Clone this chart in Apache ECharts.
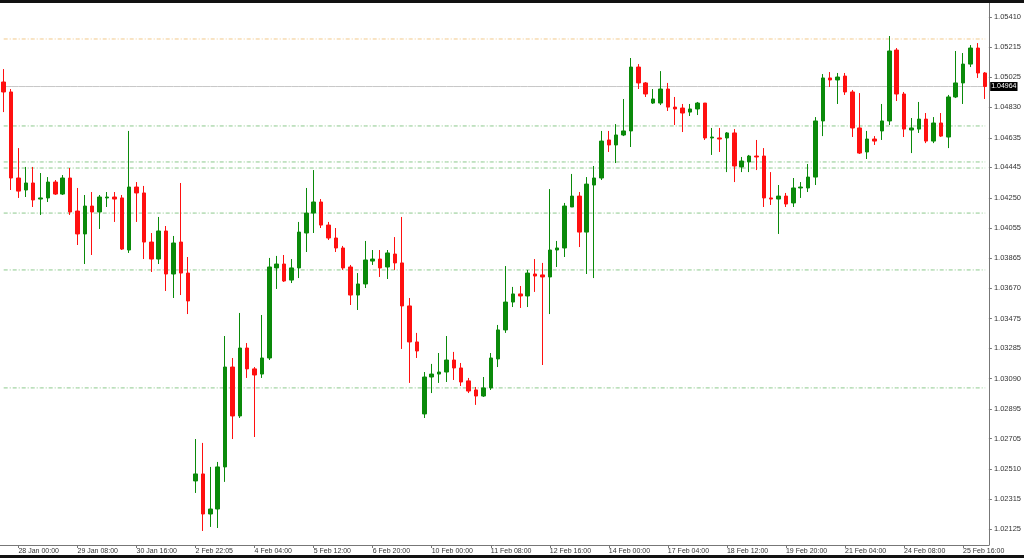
<!DOCTYPE html>
<html>
<head>
<meta charset="utf-8">
<script src="https://cdn.jsdelivr.net/npm/echarts@6/dist/echarts.min.js"></script>
<style>
    html, body { margin: 0; padding: 0; background: #fff; }
    #chart { width: 1024px; height: 558px; }
</style>
</head>
<body>
<div id="chart"></div>
<script>
// 4h candles, [open, close, low, high]
var candles = [
    [1.04993, 1.04929, 1.04800, 1.05076], [1.04929, 1.04377, 1.04300, 1.04948], [1.04377, 1.04293, 1.04249, 1.04569],
    [1.04300, 1.04345, 1.04255, 1.04448], [1.04345, 1.04236, 1.04191, 1.04448], [1.04242, 1.04249, 1.04140, 1.04409],
    [1.04249, 1.04351, 1.04223, 1.04383], [1.04351, 1.04274, 1.04268, 1.04364], [1.04274, 1.04377, 1.04268, 1.04396],
    [1.04377, 1.04159, 1.04140, 1.04441], [1.04165, 1.04018, 1.03947, 1.04313], [1.04018, 1.04197, 1.03825, 1.04268],
    [1.04197, 1.04159, 1.03883, 1.04287], [1.04159, 1.04255, 1.04050, 1.04268], [1.04249, 1.04255, 1.04191, 1.04287],
    [1.04255, 1.04242, 1.04095, 1.04287], [1.04249, 1.03921, 1.03915, 1.04268], [1.03915, 1.04319, 1.03896, 1.04679],
    [1.04319, 1.04281, 1.04095, 1.04351], [1.04281, 1.03966, 1.03857, 1.04326], [1.03966, 1.03857, 1.03774, 1.04024],
    [1.03857, 1.04037, 1.03825, 1.04127], [1.04037, 1.03761, 1.03652, 1.04069], [1.03761, 1.03960, 1.03607, 1.04005],
    [1.03966, 1.03767, 1.03626, 1.04345], [1.03767, 1.03588, 1.03504, 1.03870], [1.02433, 1.02478, 1.02356, 1.02702],
    [1.02478, 1.02221, 1.02112, 1.02677], [1.02221, 1.02253, 1.02138, 1.02523], [1.02253, 1.02523, 1.02131, 1.02555],
    [1.02523, 1.03164, 1.02427, 1.03363], [1.03164, 1.02850, 1.02702, 1.03222], [1.02850, 1.03286, 1.02837, 1.03511],
    [1.03286, 1.03152, 1.03094, 1.03318], [1.03152, 1.03113, 1.02715, 1.03164], [1.03119, 1.03222, 1.03094, 1.03498],
    [1.03222, 1.03806, 1.03209, 1.03864], [1.03800, 1.03825, 1.03665, 1.03877], [1.03825, 1.03716, 1.03710, 1.03883],
    [1.03722, 1.03800, 1.03703, 1.03857], [1.03800, 1.04030, 1.03735, 1.04095], [1.04024, 1.04152, 1.03902, 1.04313],
    [1.04152, 1.04223, 1.04024, 1.04428], [1.04223, 1.04075, 1.04056, 1.04242], [1.04075, 1.03992, 1.03979, 1.04095],
    [1.03992, 1.03928, 1.03902, 1.04056], [1.03928, 1.03800, 1.03787, 1.03941], [1.03806, 1.03626, 1.03562, 1.03819],
    [1.03626, 1.03697, 1.03530, 1.03767], [1.03697, 1.03851, 1.03671, 1.03973], [1.03844, 1.03857, 1.03819, 1.03915],
    [1.03857, 1.03800, 1.03742, 1.03915], [1.03806, 1.03896, 1.03729, 1.03915], [1.03889, 1.03832, 1.03787, 1.03998],
    [1.03832, 1.03556, 1.03280, 1.04127], [1.03556, 1.03325, 1.03062, 1.03607], [1.03325, 1.03267, 1.03222, 1.03383],
    [1.02863, 1.03100, 1.02837, 1.03132], [1.03100, 1.03119, 1.02997, 1.03184], [1.03119, 1.03132, 1.03062, 1.03254],
    [1.03132, 1.03209, 1.03068, 1.03363], [1.03209, 1.03158, 1.03081, 1.03261], [1.03158, 1.03068, 1.03042, 1.03190],
    [1.03075, 1.03010, 1.02997, 1.03094], [1.03017, 1.02978, 1.02921, 1.03036], [1.02978, 1.03030, 1.02972, 1.03100],
    [1.03030, 1.03222, 1.03017, 1.03254], [1.03216, 1.03402, 1.03164, 1.03434], [1.03402, 1.03581, 1.03383, 1.03812],
    [1.03581, 1.03633, 1.03549, 1.03678], [1.03633, 1.03620, 1.03543, 1.03684], [1.03620, 1.03767, 1.03549, 1.03787],
    [1.03761, 1.03748, 1.03646, 1.03857], [1.03755, 1.03742, 1.03177, 1.03832], [1.03742, 1.03915, 1.03504, 1.04306],
    [1.03915, 1.03928, 1.03806, 1.03973], [1.03928, 1.04197, 1.03870, 1.04217], [1.04191, 1.04261, 1.04191, 1.04403],
    [1.04261, 1.04030, 1.03934, 1.04287], [1.04030, 1.04338, 1.03761, 1.04383], [1.04332, 1.04377, 1.03735, 1.04454],
    [1.04377, 1.04614, 1.04364, 1.04679], [1.04621, 1.04589, 1.04544, 1.04679], [1.04589, 1.04653, 1.04473, 1.04723],
    [1.04653, 1.04679, 1.04646, 1.04884], [1.04679, 1.05089, 1.04576, 1.05147], [1.05089, 1.04987, 1.04948, 1.05108],
    [1.04987, 1.04916, 1.04897, 1.04993], [1.04858, 1.04884, 1.04852, 1.04948], [1.04858, 1.04948, 1.04845, 1.05063],
    [1.04948, 1.04832, 1.04807, 1.04987], [1.04832, 1.04820, 1.04717, 1.04897], [1.04826, 1.04794, 1.04672, 1.04852],
    [1.04800, 1.04820, 1.04775, 1.04852], [1.04820, 1.04858, 1.04781, 1.04865], [1.04858, 1.04634, 1.04621, 1.04858],
    [1.04634, 1.04640, 1.04525, 1.04698], [1.04634, 1.04627, 1.04544, 1.04698], [1.04634, 1.04666, 1.04415, 1.04672],
    [1.04666, 1.04454, 1.04351, 1.04691], [1.04448, 1.04486, 1.04415, 1.04512], [1.04480, 1.04518, 1.04415, 1.04525],
    [1.04518, 1.04512, 1.04428, 1.04621], [1.04518, 1.04249, 1.04191, 1.04569], [1.04249, 1.04242, 1.04204, 1.04415],
    [1.04242, 1.04261, 1.04018, 1.04332], [1.04261, 1.04210, 1.04191, 1.04281], [1.04217, 1.04313, 1.04191, 1.04377],
    [1.04313, 1.04319, 1.04249, 1.04351], [1.04313, 1.04383, 1.04287, 1.04467], [1.04383, 1.04743, 1.04332, 1.04768],
    [1.04743, 1.05019, 1.04646, 1.05044], [1.05019, 1.05006, 1.04961, 1.05057], [1.05006, 1.05025, 1.04852, 1.05051],
    [1.05031, 1.04929, 1.04910, 1.05051], [1.04929, 1.04698, 1.04640, 1.04942], [1.04698, 1.04537, 1.04531, 1.04922],
    [1.04544, 1.04627, 1.04499, 1.04679], [1.04627, 1.04614, 1.04589, 1.04646], [1.04679, 1.04743, 1.04621, 1.04852],
    [1.04743, 1.05192, 1.04717, 1.05288], [1.05198, 1.04916, 1.04871, 1.05211], [1.04916, 1.04691, 1.04640, 1.04929],
    [1.04685, 1.04698, 1.04537, 1.04762], [1.04691, 1.04755, 1.04666, 1.04865], [1.04755, 1.04614, 1.04601, 1.04794],
    [1.04614, 1.04730, 1.04601, 1.04768], [1.04730, 1.04646, 1.04640, 1.04794], [1.04640, 1.04897, 1.04569, 1.04910],
    [1.04897, 1.04987, 1.04890, 1.05192], [1.04987, 1.05108, 1.04852, 1.05179], [1.05108, 1.05211, 1.05089, 1.05230],
    [1.05211, 1.05051, 1.05019, 1.05243], [1.05051, 1.04964, 1.04884, 1.05057]
];

var timeLabels = ['28 Jan 00:00', '29 Jan 08:00', '30 Jan 16:00', '2 Feb 22:05', '4 Feb 04:00', '5 Feb 12:00',
    '6 Feb 20:00', '10 Feb 00:00', '11 Feb 08:00', '12 Feb 16:00', '14 Feb 00:00', '17 Feb 04:00',
    '18 Feb 12:00', '19 Feb 20:00', '21 Feb 04:00', '24 Feb 08:00', '25 Feb 16:00'];
var firstLabelIndex = 2;
var labelStep = 8;

var priceTicks = [1.05410, 1.05215, 1.05025, 1.04830, 1.04635, 1.04445, 1.04250, 1.04055, 1.03865,
    1.03670, 1.03475, 1.03285, 1.03090, 1.02895, 1.02705, 1.02510, 1.02315, 1.02125];

var levelLines = [1.04711, 1.04480, 1.04441, 1.04152, 1.03787, 1.03030];
var upperLevel = 1.05269;
var lastPrice = 1.04964;

var categories = candles.map(function(c, i) {
    var k = i - firstLabelIndex;
    return (k >= 0 && k % labelStep === 0 && timeLabels[k / labelStep]) ? timeLabels[k / labelStep] : '';
});

var chart = echarts.init(document.getElementById('chart'));

var dashStyle = { color: '#8cc98c', type: [4, 2, 1, 2], width: 1 };

// horizontal levels drawn as flat line series over the full width
var levelSeries = levelLines.map(function(v) {
    return {
        type: 'line', data: categories.map(function() { return v; }),
        symbol: 'none', silent: true, lineStyle: dashStyle, z: 1
    };
});
levelSeries.push({
    type: 'line', data: categories.map(function() { return upperLevel; }),
    symbol: 'none', silent: true, z: 1,
    lineStyle: { color: '#f2c98a', type: [4, 2, 1, 2], width: 1 }
});
levelSeries.push({
    type: 'line', data: categories.map(function() { return lastPrice; }),
    symbol: 'none', silent: true, z: 1,
    lineStyle: { color: '#c8c8c8', type: 'solid', width: 1 },
    endLabel: {
        show: true, formatter: lastPrice.toFixed(5),
        backgroundColor: '#000', color: '#fff', fontSize: 7, padding: [1, 1],
        fontFamily: 'Liberation Sans', distance: 5
    }
});

option = {
    animation: false,
    backgroundColor: '#fff',
    grid: { left: 0, right: 28, top: 3, bottom: 13 },
    xAxis: {
        type: 'category',
        data: categories,
        boundaryGap: true,
        axisLine: { show: true, lineStyle: { color: '#777', width: 1 } },
        axisTick: {
            show: true, length: 3, lineStyle: { color: '#777' }, alignWithLabel: true,
            interval: function(i, v) { return v !== ''; }
        },
        axisLabel: {
            interval: function(i, v) { return v !== ''; },
            align: 'left', margin: 3, fontSize: 7, color: '#333',
            fontFamily: 'Liberation Sans Narrow, Liberation Sans'
        },
        splitLine: { show: false }
    },
    yAxis: {
        type: 'value',
        position: 'right',
        min: 1.02022,
        max: 1.05500,
        scale: true,
        axisLine: { show: true, lineStyle: { color: '#777', width: 1 } },
        axisTick: { show: true, length: 3, customValues: priceTicks, lineStyle: { color: '#777' } },
        axisLabel: {
            customValues: priceTicks, margin: 5, fontSize: 7.5, color: '#333',
            fontFamily: 'Liberation Sans',
            formatter: function(v) { return v.toFixed(5); }
        },
        splitLine: { show: false }
    },
    graphic: [
        { type: 'rect', left: 0, top: 0, shape: { width: 1024, height: 3 }, style: { fill: '#111' }, z: 100 },
        { type: 'rect', left: 0, top: 555, shape: { width: 1024, height: 3 }, style: { fill: '#111' }, z: 100 }
    ],
    series: levelSeries.concat([
        {
            name: 'EURUSD',
            type: 'candlestick',
            barWidth: 4,
            data: candles,
            z: 3,
            itemStyle: {
                color: '#0a8a0a',
                color0: '#ff1010',
                borderColor: '#0a8a0a',
                borderColor0: '#ff1010',
                borderWidth: 1
            }
        }
    ])
};

chart.setOption(option);
</script>
</body>
</html>
